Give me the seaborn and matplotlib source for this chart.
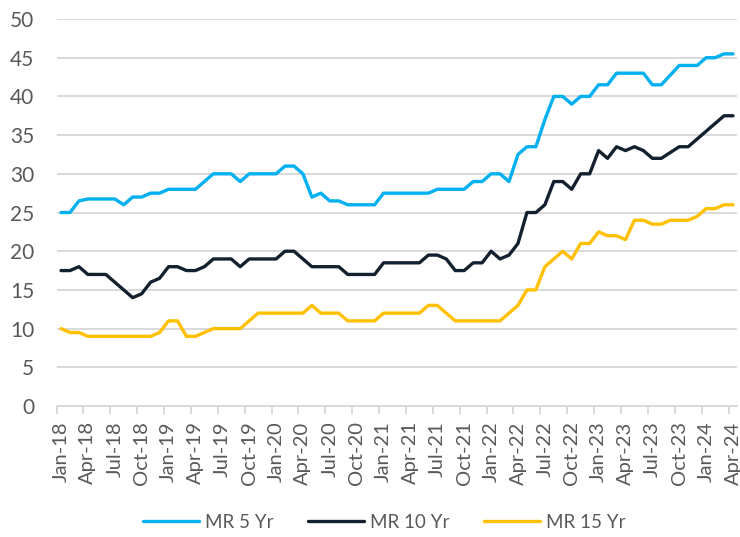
import numpy as np
import pandas as pd
import matplotlib.pyplot as plt
import seaborn as sns

# monthly series, Jan-18 .. Apr-24
months = pd.date_range("2018-01-01", "2024-04-01", freq="MS")
month_labels = list(months.strftime("%b-%y"))

mr5 = [25, 25, 26.5, 26.75, 26.75, 26.75, 26.75, 26, 27, 27, 27.5, 27.5,
       28, 28, 28, 28, 29, 30, 30, 30, 29, 30, 30, 30,
       30, 31, 31, 30, 27, 27.5, 26.5, 26.5, 26, 26, 26, 26,
       27.5, 27.5, 27.5, 27.5, 27.5, 27.5, 28, 28, 28, 28, 29, 29,
       30, 30, 29, 32.5, 33.5, 33.5, 37, 40, 40, 39, 40, 40,
       41.5, 41.5, 43, 43, 43, 43, 41.5, 41.5, 42.75, 44, 44, 44,
       45, 45, 45.5, 45.5]
mr10 = [17.5, 17.5, 18, 17, 17, 17, 16, 15, 14, 14.5, 16, 16.5,
        18, 18, 17.5, 17.5, 18, 19, 19, 19, 18, 19, 19, 19,
        19, 20, 20, 19, 18, 18, 18, 18, 17, 17, 17, 17,
        18.5, 18.5, 18.5, 18.5, 18.5, 19.5, 19.5, 19, 17.5, 17.5, 18.5, 18.5,
        20, 19, 19.5, 21, 25, 25, 26, 29, 29, 28, 30, 30,
        33, 32, 33.5, 33, 33.5, 33, 32, 32, 32.75, 33.5, 33.5, 34.5,
        35.5, 36.5, 37.5, 37.5]
mr15 = [10, 9.5, 9.5, 9, 9, 9, 9, 9, 9, 9, 9, 9.5,
        11, 11, 9, 9, 9.5, 10, 10, 10, 10, 11, 12, 12,
        12, 12, 12, 12, 13, 12, 12, 12, 11, 11, 11, 11,
        12, 12, 12, 12, 12, 13, 13, 12, 11, 11, 11, 11,
        11, 11, 12, 13, 15, 15, 18, 19, 20, 19, 21, 21,
        22.5, 22, 22, 21.5, 24, 24, 23.5, 23.5, 24, 24, 24, 24.5,
        25.5, 25.5, 26, 26]

series_names = ["MR 5 Yr", "MR 10 Yr", "MR 15 Yr"]
colors = ["#00B0F0", "#13202F", "#FFC000"]

df = pd.DataFrame({"idx": np.arange(len(month_labels)),
                   "MR 5 Yr": mr5, "MR 10 Yr": mr10, "MR 15 Yr": mr15})
long_df = df.melt(id_vars="idx", var_name="series", value_name="rate")

sns.set_theme(style="white")
plt.rcParams['font.family'] = ['Lato', 'DejaVu Sans']

fig = plt.figure(figsize=(7.4, 5.37), dpi=100)
ax = fig.add_axes([0.0764, 0.2439, 0.9202, 0.7207])

sns.lineplot(data=long_df, x="idx", y="rate", hue="series", hue_order=series_names,
             palette=dict(zip(series_names, colors)), linewidth=2.4, ax=ax, legend=True)

ax.set_xlim(-0.5, len(month_labels) - 0.5)
ax.set_ylim(0, 50)
ax.set_yticks(range(0, 51, 5))
ax.grid(axis='y', color='#D9D9D9', linewidth=1.4)
ax.set_axisbelow(True)

ax.set_xticks(range(0, len(month_labels), 3))
ax.set_xticklabels(month_labels[::3], rotation=90)
ax.set_xticks(np.arange(-0.5, len(month_labels), 3), minor=True)
ax.tick_params(axis='x', which='major', length=0, pad=11, labelsize=14.5, labelcolor='#595959')
ax.tick_params(axis='x', which='minor', length=6, width=1.4, color='#D9D9D9', bottom=True)
ax.tick_params(axis='y', length=0, pad=16, labelsize=15, labelcolor='#595959')
ax.set_xlabel("")
ax.set_ylabel("")

for side in ["top", "right", "left"]:
    ax.spines[side].set_visible(False)
ax.spines["bottom"].set_color('#D9D9D9')
ax.spines["bottom"].set_linewidth(1.4)

handles, labels = ax.get_legend_handles_labels()
ax.legend_.remove()
fig.legend(handles, labels, loc='center', bbox_to_anchor=(0.519, 0.027), ncol=3,
           frameon=False, fontsize=13.5, handlelength=3.0, columnspacing=1.85,
           handletextpad=0.3, labelcolor='#595959')

fig.savefig("out.png", dpi=100)
